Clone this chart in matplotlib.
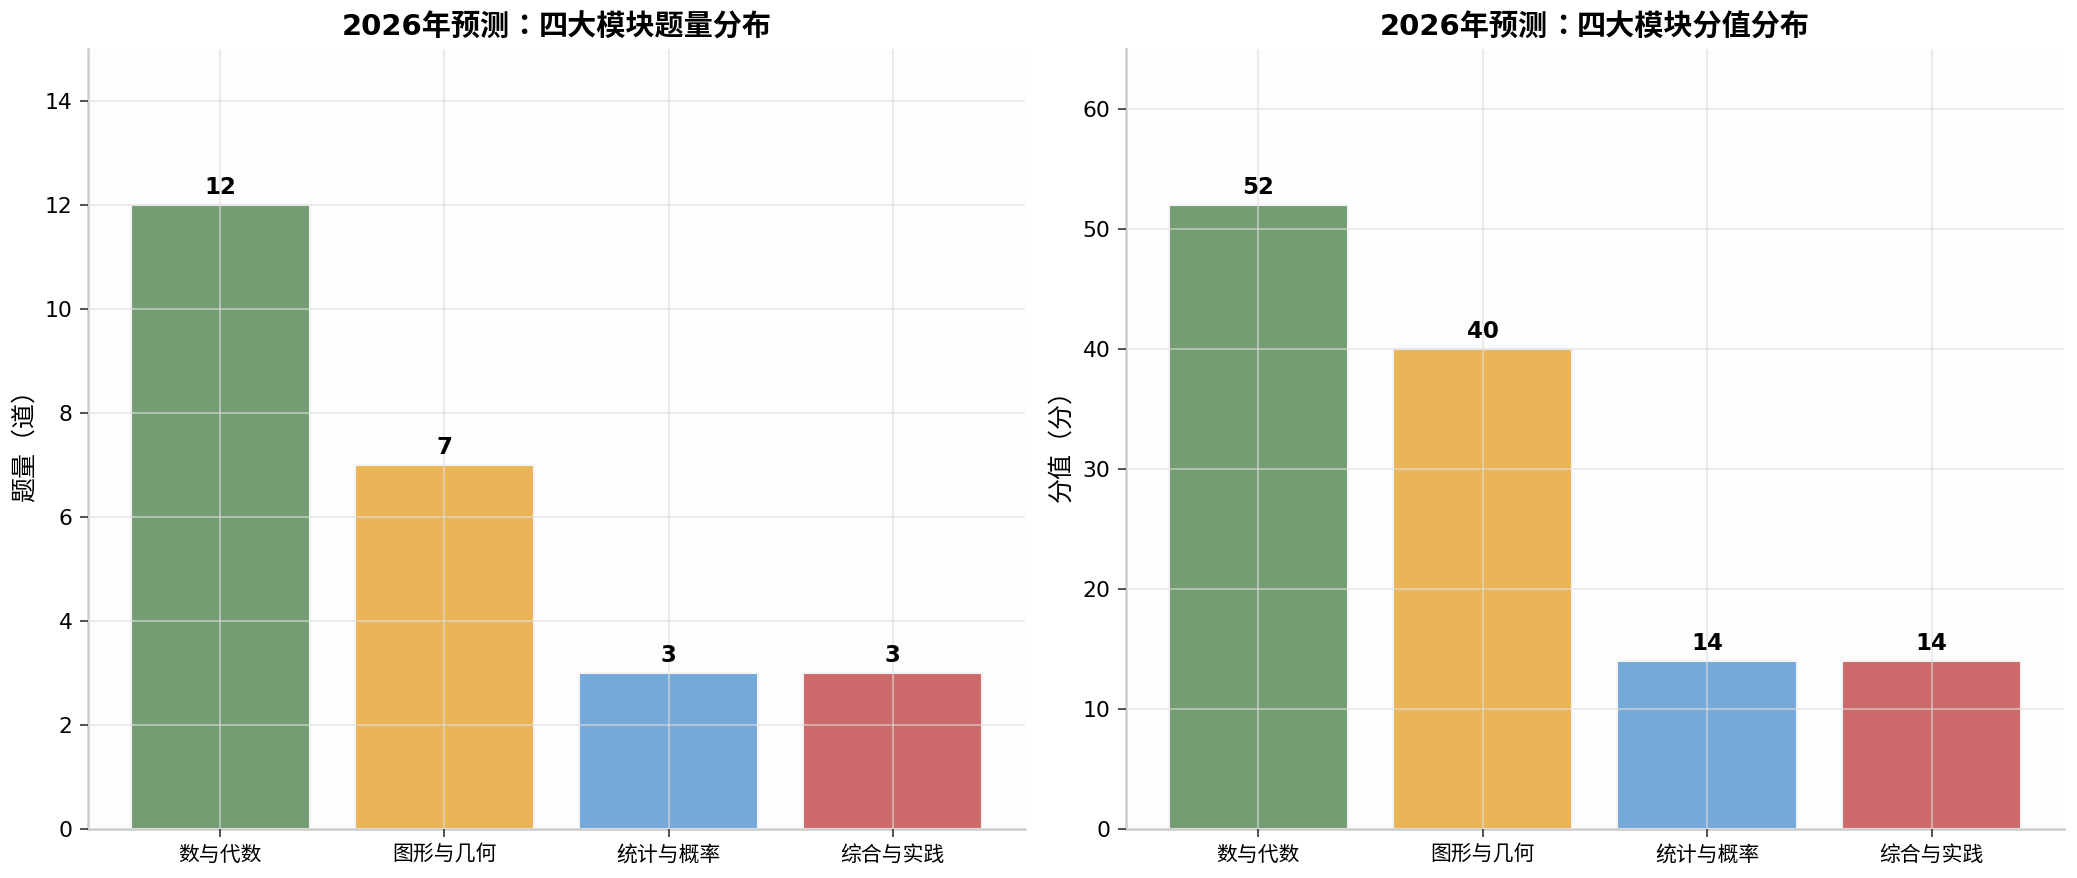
import matplotlib
matplotlib.use("Agg")
import matplotlib.pyplot as plt
from matplotlib.offsetbox import TextArea, HPacker, AnchoredOffsetbox

plt.rcParams['font.family'] = ['DejaVu Sans', 'Noto Sans CJK SC']
plt.rcParams['axes.unicode_minus'] = False

categories = ["数与代数", "图形与几何", "统计与概率", "综合与实践"]
question_counts = [12, 7, 3, 3]
score_values = [52, 40, 14, 14]
bar_colors = ["#749D74", "#EBB457", "#74A9DA", "#CD686B"]

titles = ["2026年预测：四大模块题量分布", "2026年预测：四大模块分值分布"]
ylabels = ["题量（道）", "分值（分）"]
ylims = [15, 65]

fig = plt.figure(figsize=(2077 / 150, 878 / 150), dpi=150)
ax1 = fig.add_axes([0.0424, 0.0558, 0.4511, 0.8884])
ax2 = fig.add_axes([0.5421, 0.0558, 0.4516, 0.8884])


def cjk_title(ax, title):
    # the full-width colon is drawn centred in its cell, as in the reference
    head, tail = title.split("：")
    base = dict(fontsize=14, fontweight="bold", color="black")
    parts = [
        TextArea(head, textprops=dict(base, family=['DejaVu Sans', 'Noto Sans CJK SC'])),
        TextArea("：", textprops=dict(base, family=['Noto Sans CJK JP'])),
        TextArea(tail, textprops=dict(base, family=['DejaVu Sans', 'Noto Sans CJK SC'])),
    ]
    box = HPacker(children=parts, align="baseline", pad=0, sep=0)
    anch = AnchoredOffsetbox(loc="lower center", child=box, pad=0, borderpad=0,
                             frameon=False, bbox_to_anchor=(0.5, 1.01),
                             bbox_transform=ax.transAxes)
    ax.add_artist(anch)


for ax, vals, title, ylabel, ylim in zip(
        [ax1, ax2], [question_counts, score_values], titles, ylabels, ylims):
    ax.set_facecolor("#fdfdfd")
    x = list(range(len(categories)))
    bars = ax.bar(x, vals, width=0.8, color=bar_colors,
                  edgecolor="#f4f4f4", linewidth=1.0, zorder=1)
    for b, v in zip(bars, vals):
        ax.annotate(f"{v}", (b.get_x() + b.get_width() / 2, b.get_height()),
                    xytext=(0, 3), textcoords="offset points",
                    ha="center", va="bottom", fontsize=11,
                    fontweight="bold", color="black")
    ax.set_xticks(x)
    ax.set_xticklabels(categories, fontsize=10)
    ax.set_ylim(0, ylim)
    ax.tick_params(axis="y", labelsize=10.5)
    ax.set_ylabel(ylabel, fontsize=12)
    cjk_title(ax, title)
    ax.set_axisbelow(False)
    ax.grid(True, color="#dddddd", alpha=0.6, linewidth=0.9, zorder=2)
    for s in ["top", "right"]:
        ax.spines[s].set_visible(False)
    for s in ["left", "bottom"]:
        ax.spines[s].set_color("#cccccc")
        ax.spines[s].set_linewidth(1.2)
    ax.tick_params(colors="#333333", labelcolor="black", length=4)

fig.savefig("out.png", dpi=150)
